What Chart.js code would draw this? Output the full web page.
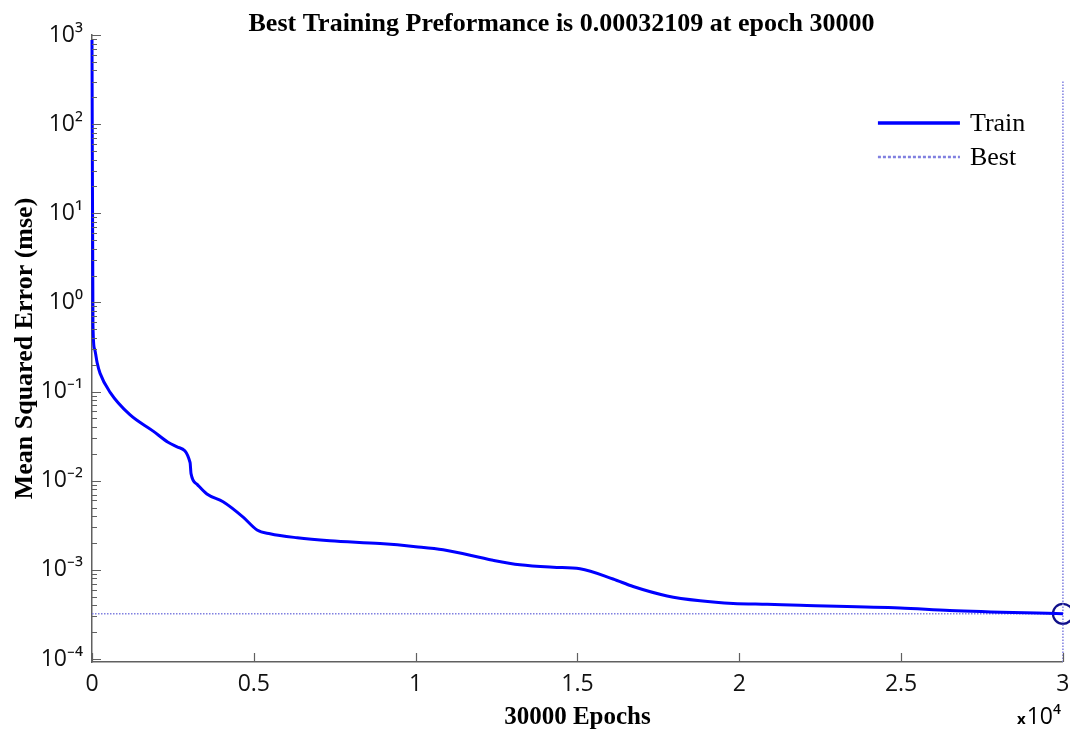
<!DOCTYPE html>
<html>
<head>
<meta charset="utf-8">
<script src="https://cdn.jsdelivr.net/npm/chart.js@4.4.1/dist/chart.umd.min.js"></script>
<style>
  html, body { margin: 0; padding: 0; background: #fff; }
  #wrap { width: 1070px; height: 736px; }
</style>
</head>
<body>
<div id="wrap"><canvas id="perf"></canvas></div>
<script>
// training record
const epochs = [0, 30, 80, 160, 250, 560, 1170, 1890, 2350, 2630, 3030, 3060, 3250, 3550, 4050, 4670,
  5100, 5500, 6340, 7350, 8900, 10000, 10850, 12390, 13220, 14250, 15080, 16100, 16720, 17770,
  18790, 19810, 20860, 21880, 24970, 26500, 30000];
const mse = [880, 0.55, 0.3, 0.21, 0.16, 0.098, 0.055, 0.036, 0.027, 0.024, 0.016, 0.012, 0.0091, 0.0071, 0.0058, 0.0039,
  0.0028, 0.00254, 0.00229, 0.00212, 0.00197, 0.00182, 0.00168, 0.00128, 0.00114, 0.00107, 0.00103, 0.00079, 0.00065, 0.00051,
  0.00045, 0.00042, 0.00041, 0.0004, 0.000374, 0.00035, 0.00032109];
const bestEpoch = 30000;
const bestPerf = 0.00032109;
const yRange = [9.25e-5, 1000];
const bestVLine = [9.25e-5, 300];
const xTicks = [0, 5000, 10000, 15000, 20000, 25000, 30000];
const yDecades = [-4, -3, -2, -1, 0, 1, 2, 3];

const SUP = { '0': '⁰', '1': '¹', '2': '²', '3': '³', '4': '⁴', '-': '⁻' };
const sup = s => String(s).split('').map(c => SUP[c]).join('');

const axisGray = '#606060';
const bestColor = '#8080e0';

// MATLAB style ticks pointing into the axes
const innerTicks = {
  id: 'innerTicks',
  afterDatasetsDraw(chart) {
    const { ctx, scales: { x, y } } = chart;
    ctx.save();
    ctx.strokeStyle = axisGray;
    ctx.lineWidth = 1.2;
    ctx.beginPath();
    yDecades.forEach(d => {
      for (let m = 1; m < 10; m++) {
        const v = m * Math.pow(10, d);
        if (v < yRange[0] || v > yRange[1]) continue;
        const py = Math.round(y.getPixelForValue(v)) + 0.5;
        ctx.moveTo(x.left, py);
        ctx.lineTo(x.left + (m === 1 ? 9 : 5), py);
      }
    });
    xTicks.forEach(v => {
      const px = Math.round(x.getPixelForValue(v)) + 0.5;
      ctx.moveTo(px, y.bottom);
      ctx.lineTo(px, y.bottom - 9);
    });
    ctx.stroke();
    ctx.restore();
  }
};

const decor = {
  id: 'decor',
  afterDraw(chart) {
    const { ctx, chartArea: a } = chart;
    ctx.save();
    // title
    ctx.fillStyle = '#000';
    ctx.font = 'bold 26px "Liberation Serif"';
    ctx.textAlign = 'center';
    ctx.textBaseline = 'alphabetic';
    ctx.fillText('Best Training Preformance is 0.00032109 at epoch 30000', (a.left + a.right) / 2 - 16, 31);

    // exponent of the x axis
    ctx.textAlign = 'right';
    ctx.font = '23px "Open Sans"';
    const ten = '10' + sup(4);
    ctx.fillText(ten, a.right - 2, a.bottom + 62);
    const w = ctx.measureText(ten).width;
    ctx.font = 'bold 15px "Open Sans"';
    ctx.fillText('x', a.right - 3 - w, a.bottom + 62);

    // legend
    const items = chart.data.datasets.filter(d => d.legend);
    const lx = a.right - 185, ly = a.top + 88;
    items.forEach((d, i) => {
      const yy = ly + i * 34;
      ctx.beginPath();
      ctx.strokeStyle = d.borderColor;
      ctx.lineWidth = d.legendWidth;
      ctx.setLineDash(d.legendDash || []);
      ctx.moveTo(lx, yy);
      ctx.lineTo(lx + 82, yy);
      ctx.stroke();
      ctx.setLineDash([]);
      ctx.fillStyle = '#000';
      ctx.textAlign = 'left';
      ctx.textBaseline = 'middle';
      ctx.font = '26px "Liberation Serif"';
      ctx.fillText(d.label, lx + 92, yy + 1);
    });
    ctx.restore();
  }
};

new Chart(document.getElementById('perf'), {
  type: 'line',
  data: {
    datasets: [
      {
        label: 'Train', legend: true, legendWidth: 3.5,
        data: epochs.map((e, i) => ({ x: e, y: mse[i] })),
        borderColor: '#0000ff', borderWidth: 3, pointRadius: 0,
        cubicInterpolationMode: 'monotone', clip: false
      },
      {
        label: 'Best', legend: true, legendWidth: 2.5, legendDash: [3, 2],
        data: [{ x: 0, y: bestPerf }, { x: bestEpoch, y: bestPerf }],
        borderColor: bestColor, borderWidth: 1.5, borderDash: [1.5, 1.5], pointRadius: 0, clip: false
      },
      {
        label: 'Best vertical',
        data: bestVLine.map(v => ({ x: bestEpoch, y: v })),
        borderColor: bestColor, borderWidth: 1.5, borderDash: [1.5, 1.5], pointRadius: 0, clip: false
      },
      {
        label: 'Best point',
        data: [{ x: bestEpoch, y: bestPerf }],
        showLine: false, pointRadius: 10, pointBorderWidth: 2.2,
        pointBorderColor: '#10108a', pointBackgroundColor: 'rgba(0,0,0,0)', clip: false
      }
    ]
  },
  options: {
    responsive: true,
    maintainAspectRatio: false,
    animation: false,
    layout: { autoPadding: false, padding: { top: 35, right: 0, left: 0, bottom: 0 } },
    plugins: { legend: { display: false }, title: { display: false }, tooltip: { enabled: false } },
    scales: {
      x: {
        type: 'linear', min: 0, max: 30000,
        afterFit: s => { s.height = 74; },
        afterBuildTicks: s => { s.ticks = xTicks.map(v => ({ value: v })); },
        grid: { display: false, drawTicks: false },
        border: { display: true, color: axisGray, width: 1.5 },
        ticks: {
          padding: 0.5, color: '#111', maxRotation: 0,
          font: { family: 'Open Sans', size: 23, lineHeight: 1.94 },
          callback: v => String(v / 10000)
        },
        title: {
          display: true, text: '30000 Epochs', color: '#000',
          font: { family: 'Liberation Serif', size: 25, weight: 'bold' },
          padding: { top: 0, bottom: 3 }
        }
      },
      y: {
        type: 'logarithmic', min: yRange[0], max: yRange[1],
        afterFit: s => { s.width = 92; },
        afterBuildTicks: s => { s.ticks = yDecades.map(d => ({ value: Math.pow(10, d) })); },
        grid: { display: false, drawTicks: false },
        border: { display: true, color: axisGray, width: 1.5 },
        ticks: {
          padding: 9, color: '#111',
          font: { family: 'Open Sans', size: 23 },
          callback: v => '10' + sup(Math.round(Math.log10(v)))
        },
        title: {
          display: true, text: 'Mean Squared Error (mse)', color: '#000',
          font: { family: 'Liberation Serif', size: 26, weight: 'bold' },
          padding: { top: 10, bottom: 0 }
        }
      }
    }
  },
  plugins: [innerTicks, decor]
});
</script>
</body>
</html>
